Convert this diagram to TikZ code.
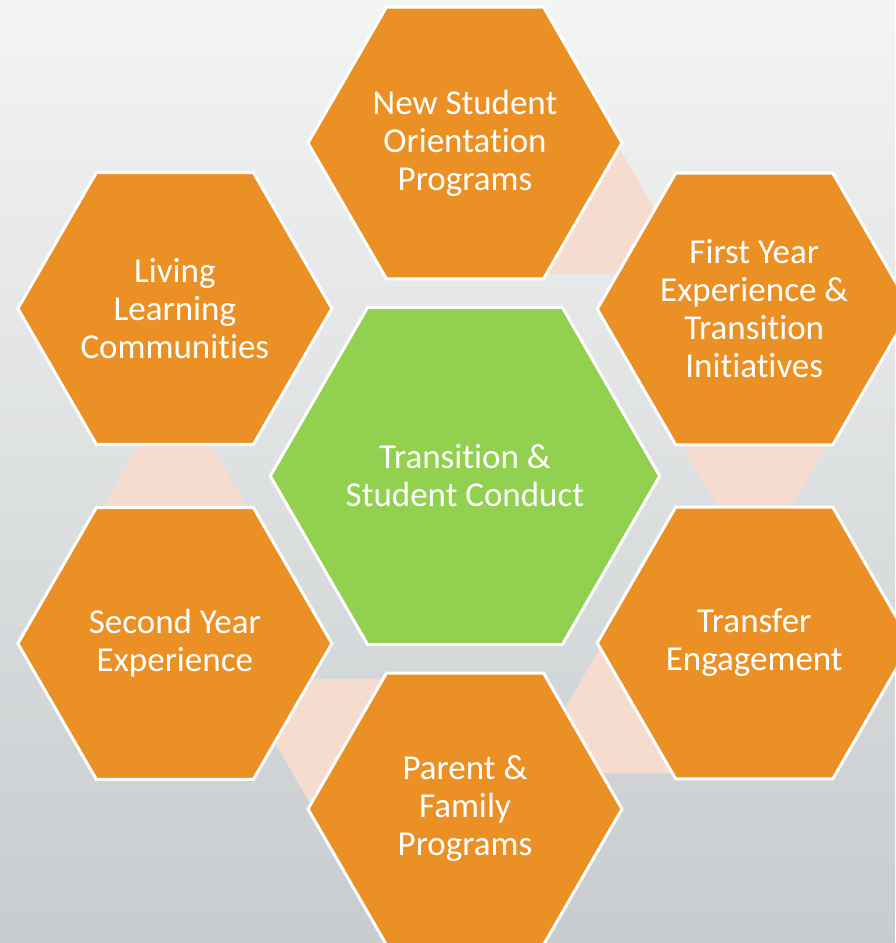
\documentclass[tikz,border=0pt]{standalone}
\usepackage{fontspec}
\setmainfont{Carlito}[Ligatures={NoCommon}]
\usepackage{tikz}
\usetikzlibrary{shapes.geometric, calc}
\definecolor{hexorange}{RGB}{234,144,36}
\definecolor{hexgreen}{RGB}{146,208,80}
\definecolor{linkpeach}{RGB}{246,220,207}
\definecolor{bgtop}{RGB}{243,244,244}
\definecolor{bgbottom}{RGB}{200,204,206}
\pgfdeclarelayer{back}
\pgfsetlayers{back,main}
\tikzset{
  hexnode/.style = {regular polygon, regular polygon sides=6, draw=white, line width=3pt, inner sep=0pt, align=center, text=white, font=\fontsize{35}{38}\selectfont},
  hex_o/.style = {hexnode, fill=hexorange, minimum size=314pt},
  hex_c/.style = {hexnode, fill=hexgreen, minimum size=384pt},
  linkpiece/.style = {fill=linkpeach}
}
\newcommand{\hexlink}[2]{%
  \fill[linkpiece] ($(#1)!145.2pt!-34.25:(#2)$) -- ($(#1)!214.8pt!-7.49:(#2)$) -- ($(#1)!214.8pt!7.49:(#2)$) -- ($(#1)!145.2pt!34.25:(#2)$) -- cycle;}

\begin{document}
\begin{tikzpicture}[x=1pt, y=1pt]
    \useasboundingbox (-465,-467) rectangle (430,476);
    \node[hex_c] (core) at (0,0) {Transition \&\\Student Conduct};
    \node[hex_o] (nsop) at (90:333) {New Student\\Orientation\\Programs};
    \node[hex_o] (fyet) at (30:334) {First Year\\Experience \&\\Transition\\Initiatives};
    \node[hex_o] (tren) at (-30:334) {Transfer\\Engagement};
    \node[hex_o] (pfam) at (-90:333) {Parent \&\\Family\\Programs};
    \node[hex_o] (syex) at (210:335) {Second Year\\Experience};
    \node[hex_o] (llcm) at (150:335) {Living\\Learning\\Communities};
    \begin{pgfonlayer}{back}
      \shade[top color=bgtop, bottom color=bgbottom] (-465,-467) rectangle (430,476);
      \hexlink{nsop}{fyet}
      \hexlink{fyet}{tren}
      \hexlink{tren}{pfam}
      \hexlink{pfam}{syex}
      \hexlink{syex}{llcm}
    \end{pgfonlayer}
\end{tikzpicture}
\end{document}
